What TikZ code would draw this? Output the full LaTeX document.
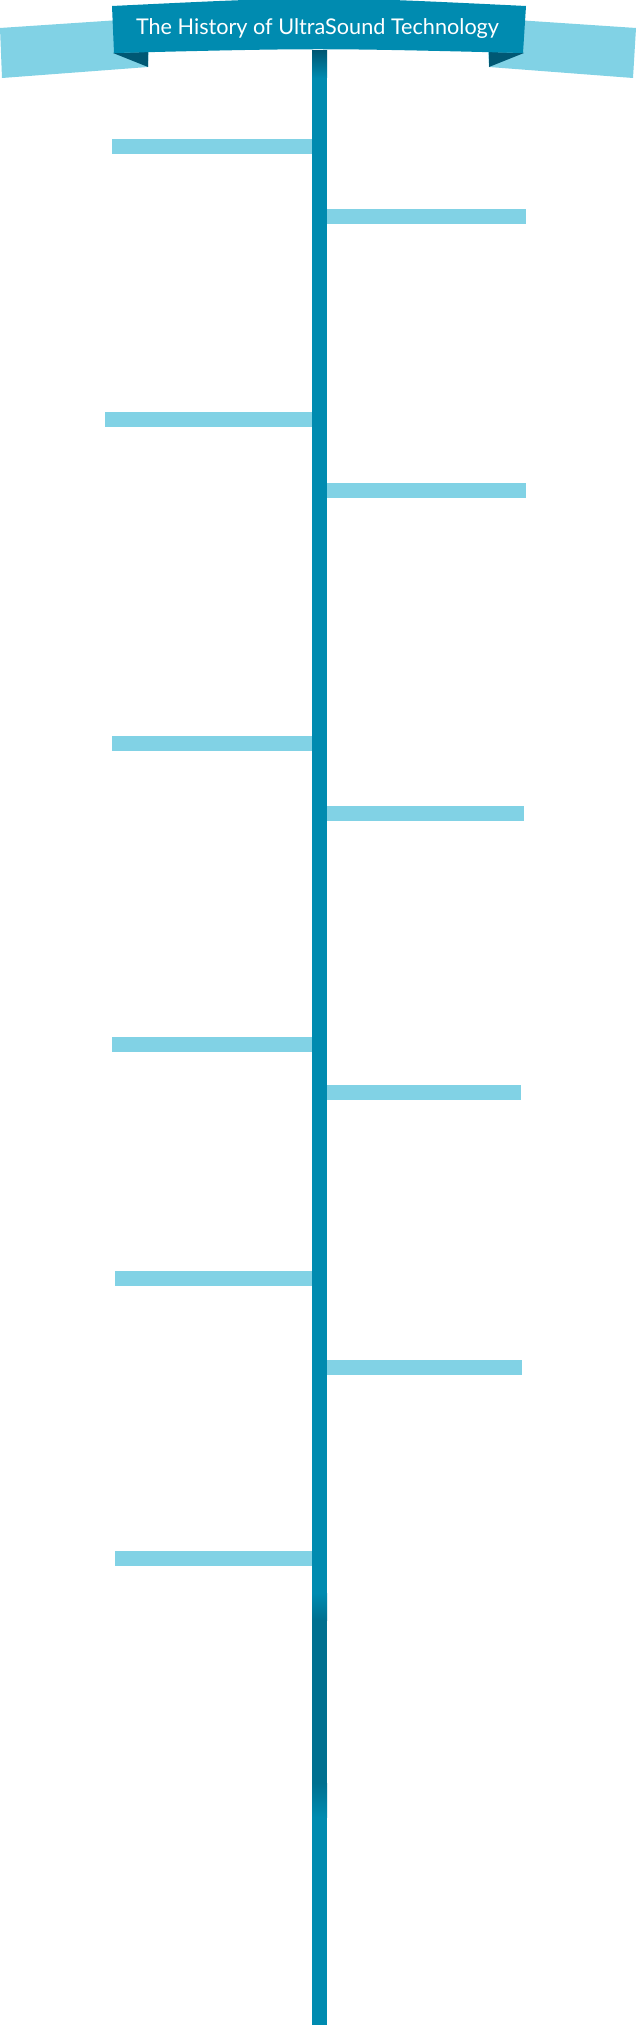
\documentclass[tikz,border=0pt]{standalone}
\usepackage{fontspec}
\setmainfont{Lato}
\definecolor{ustMain}{RGB}{0,139,176}
\definecolor{ustDark}{RGB}{0,112,144}
\definecolor{ustFold}{RGB}{0,88,116}
\definecolor{ustLight}{RGB}{129,210,229}
\tikzset{
  barL/.style={fill=ustLight},
  ribbon/.style={fill=ustLight},
  foldpart/.style={fill=ustFold},
  bannerpart/.style={fill=ustMain},
}
\begin{document}
\begin{tikzpicture}[x=1pt,y=-1pt]
\useasboundingbox (0,0) rectangle (636,2025);
\fill[white] (0,0) rectangle (636,2025);
% timeline axis
\fill[ustMain] (312,51) rectangle (327,2025);
\shade[top color=ustFold, bottom color=ustMain] (312,51) rectangle (327,78);
\shade[top color=ustMain, bottom color=ustDark] (312,1593) rectangle (327,1620);
\fill[ustDark] (312,1620) rectangle (327,1783);
\shade[top color=ustDark, bottom color=ustMain] (312,1783) rectangle (327,1817);
% bars left
\fill[barL] (112,139) rectangle (312,154);
\fill[barL] (105,412) rectangle (312,427);
\fill[barL] (112,736) rectangle (312,751);
\fill[barL] (112,1037) rectangle (312,1052);
\fill[barL] (115,1271) rectangle (312,1286);
\fill[barL] (115,1551) rectangle (312,1566);
% bars right
\fill[barL] (327,209) rectangle (526,224);
\fill[barL] (327,483) rectangle (526,498);
\fill[barL] (327,806) rectangle (524,821);
\fill[barL] (327,1085) rectangle (521,1100);
\fill[barL] (327,1360) rectangle (522,1375);
% ribbon ends
\fill[ribbon] (0,28) -- (150,18) -- (148,67) -- (2,78) -- cycle;
\fill[ribbon] (636,28) -- (486,18) -- (489,67) -- (633,78) -- cycle;
% folds
\fill[foldpart] (113,53) -- (148,52) -- (148,67) -- cycle;
\fill[foldpart] (524,53) -- (489,52) -- (489,67) -- cycle;
% banner
\fill[bannerpart] (112,6) .. controls (319,-4) .. (526,6) -- (523,53) .. controls (318,48) .. (114,53) -- cycle;
\node[text=white, anchor=base, inner sep=0pt, font=\fontsize{20}{24}\selectfont] (title) at (317.5,35) {\resizebox{363pt}{!}{The History of UltraSound Technology}};
\end{tikzpicture}
\end{document}
